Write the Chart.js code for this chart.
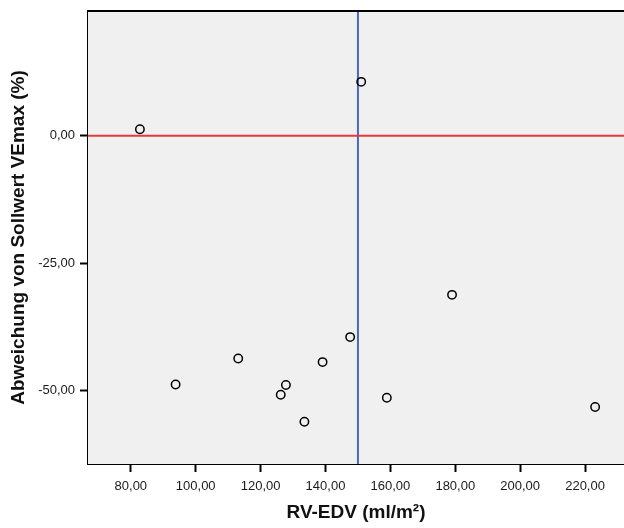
<!DOCTYPE html>
<html>
<head>
<meta charset="utf-8">
<script src="https://cdn.jsdelivr.net/npm/chart.js@4/dist/chart.umd.min.js"></script>
<style>
  html, body { margin: 0; padding: 0; background: #fff; }
  canvas { display: block; }
</style>
</head>
<body>
<canvas id="myChart" width="624" height="528"></canvas>
<script>
const rvEdv = [82.8, 151.0, 93.8, 113.1, 127.8, 126.2, 133.5, 139.1, 147.6, 158.9, 179.0, 223.1];
const abweichung = [1.3, 10.6, -48.8, -43.7, -48.9, -50.8, -56.1, -44.4, -39.5, -51.4, -31.2, -53.2];

const xTicks = [80, 100, 120, 140, 160, 180, 200, 220];
const yTicks = [0, -25, -50];

const xMin = 66.8, xMax = 232;
const yMin = -64.4, yMax = 24.5;

const refY = 0;     // rote Linie
const refX = 150;   // blaue Linie

const punkte = [];
for (let i = 0; i < rvEdv.length; i++) {
  punkte.push({ x: rvEdv[i], y: abweichung[i] });
}

const fmt = (v) => Number(v).toFixed(2).replace(".", ",");

// Hintergrund der Plotfläche + obere Rahmenlinie
const plotFlaeche = {
  id: "plotFlaeche",
  beforeDatasetsDraw(chart) {
    const { ctx, chartArea: a } = chart;
    ctx.save();
    ctx.fillStyle = "#f0f0f0";
    ctx.fillRect(a.left, a.top, a.right - a.left, a.bottom - a.top);
    ctx.restore();
  },
  afterDraw(chart) {
    const { ctx, chartArea: a } = chart;
    ctx.save();
    ctx.strokeStyle = "#000";
    ctx.lineWidth = 2;
    ctx.beginPath();
    ctx.moveTo(a.left - 1, a.top);
    ctx.lineTo(a.right, a.top);
    ctx.stroke();
    ctx.restore();
  },
};

const ctx = document.getElementById("myChart");

new Chart(ctx, {
  type: "scatter",
  data: {
    datasets: [
      {
        label: "Patienten",
        data: punkte,
        pointStyle: "circle",
        pointRadius: 4.2,
        pointBorderWidth: 1.5,
        pointBorderColor: "#000",
        pointBackgroundColor: "rgba(0,0,0,0)",
        order: 0,
      },
      {
        label: "Null",
        type: "line",
        data: [{ x: xMin, y: refY }, { x: xMax, y: refY }],
        borderColor: "#e8383d",
        borderWidth: 2,
        pointRadius: 0,
        fill: false,
        order: 1,
      },
      {
        label: "Grenze",
        type: "line",
        data: [{ x: refX, y: yMin }, { x: refX, y: yMax }],
        borderColor: "#4a68bf",
        borderWidth: 2,
        pointRadius: 0,
        fill: false,
        order: 1,
      },
    ],
  },
  options: {
    responsive: false,
    animation: false,
    events: [],
    layout: { autoPadding: false, padding: { top: 11, right: 0, left: 0, bottom: 0 } },
    plugins: {
      legend: { display: false },
      tooltip: { enabled: false },
    },
    scales: {
      x: {
        type: "linear",
        min: xMin,
        max: xMax,
        afterBuildTicks: (s) => { s.ticks = xTicks.map((v) => ({ value: v })); },
        afterFit: (s) => { s.height = 64; s.paddingLeft = 0; s.paddingRight = 0; },
        grid: { drawOnChartArea: false, drawTicks: true, tickLength: 8, tickColor: "#000", tickWidth: 2 },
        border: { display: true, color: "#000", width: 2 },
        ticks: {
          color: "#1a1a1a",
          padding: 7,
          maxRotation: 0,
          font: { family: "'Liberation Sans', Arial, sans-serif", size: 13 },
          callback: (v) => fmt(v),
        },
        title: {
          display: true,
          text: "RV-EDV (ml/m²)",
          color: "#111",
          padding: { top: 0, bottom: 4 },
          font: { family: "'Liberation Sans', Arial, sans-serif", size: 19, weight: "bold" },
        },
      },
      y: {
        type: "linear",
        min: yMin,
        max: yMax,
        afterBuildTicks: (s) => { s.ticks = yTicks.map((v) => ({ value: v })); },
        afterFit: (s) => { s.width = 88; s.paddingTop = 0; s.paddingBottom = 0; },
        grid: { drawOnChartArea: false, drawTicks: true, tickLength: 8, tickColor: "#000", tickWidth: 2 },
        border: { display: true, color: "#000", width: 2 },
        ticks: {
          color: "#1a1a1a",
          padding: 5,
          font: { family: "'Liberation Sans', Arial, sans-serif", size: 13 },
          callback: (v) => fmt(v),
        },
        title: {
          display: true,
          text: "Abweichung von Sollwert VEmax (%)",
          color: "#111",
          padding: { top: 7, bottom: 0 },
          font: { family: "'Liberation Sans', Arial, sans-serif", size: 19, weight: "bold" },
        },
      },
    },
  },
  plugins: [plotFlaeche],
});
</script>
</body>
</html>
